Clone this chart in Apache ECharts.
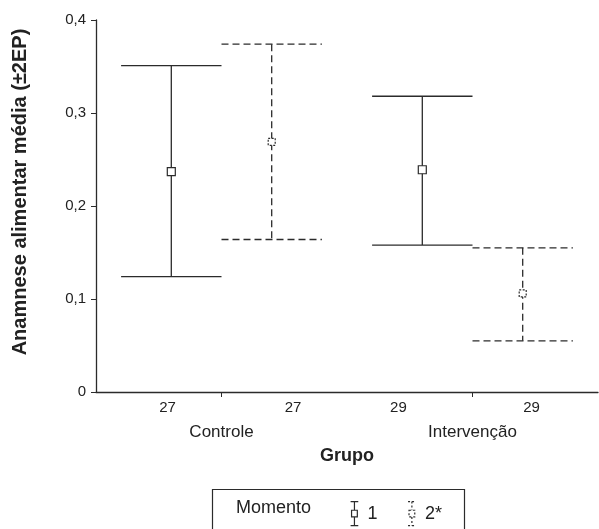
<!DOCTYPE html>
<html>
<head>
<meta charset="utf-8">
<script src="https://cdn.jsdelivr.net/npm/echarts@6/dist/echarts.min.js"></script>
<style>html,body{margin:0;padding:0;background:#fff}#c{width:599px;height:529px}</style>
</head>
<body>
<div id="c"></div>
<script>
// ---- data ----
const groups = ['Controle', 'Intervenção'];
const moments = ['1', '2*'];
const nLabels = ['27', '27', '29', '29'];
// per group: [Controle, Intervenção]
const mean1 = [0.237, 0.239];
const lower1 = [0.124, 0.158];
const upper1 = [0.351, 0.318];
const mean2 = [0.269, 0.106];
const lower2 = [0.164, 0.055];
const upper2 = [0.374, 0.155];
const yTicks = [0, 0.1, 0.2, 0.3, 0.4];

const FONT = '"Liberation Sans", Arial, sans-serif';
const INK = '#2b2b2b';

function groupCenter(i) { return i * 2 + 1; }
function buildData(mean, lower, upper, offset) {
  return groups.map((g, i) => [groupCenter(i) + offset, lower[i], upper[i], mean[i]]);
}

function makeRender(dashed, markSize) {
  return function (params, api) {
    const x = api.value(0), lo = api.value(1), hi = api.value(2), m = api.value(3);
    const pLo = api.coord([x, lo]);
    const pHi = api.coord([x, hi]);
    const pM = api.coord([x, m]);
    const half = api.size([0.4, 0])[0];
    const st = { stroke: INK, lineWidth: 1.3, lineDash: dashed ? [7, 4] : null, fill: null };
    const s = markSize / 2;
    return {
      type: 'group',
      children: [
        { type: 'line', shape: { x1: pHi[0], y1: pHi[1], x2: pLo[0], y2: pLo[1] }, style: st },
        { type: 'line', shape: { x1: pHi[0] - half, y1: pHi[1], x2: pHi[0] + half, y2: pHi[1] }, style: st },
        { type: 'line', shape: { x1: pLo[0] - half, y1: pLo[1], x2: pLo[0] + half, y2: pLo[1] }, style: st },
        { type: 'rect', shape: { x: pM[0] - s, y: pM[1] - s, width: markSize, height: markSize },
          style: { stroke: INK, lineWidth: 1.2, fill: '#fff', lineDash: dashed ? [2, 1.5] : null }, z2: 10 }
      ]
    };
  };
}

const iconPath = 'path://M0,0L8,0M4,0L4,9M1,9L7,9L7,16L1,16ZM4,16L4,25M0,25L8,25';

const chart = echarts.init(document.getElementById('c'));
chart.setOption({
  animation: false,
  backgroundColor: '#fff',
  grid: { left: 96, right: 1, top: 20, bottom: 137 },
  xAxis: [
    {
      type: 'value', min: 0, max: 4,
      axisLine: { show: true, lineStyle: { color: INK, width: 1.3 } },
      axisTick: { show: true, customValues: [1, 3], length: 5, lineStyle: { color: INK } },
      splitLine: { show: false },
      axisLabel: {
        customValues: [0.57, 1.57, 2.41, 3.47],
        formatter: function (v) {
          const idx = [0.57, 1.57, 2.41, 3.47].findIndex(t => Math.abs(t - v) < 1e-6);
          return idx >= 0 ? nLabels[idx] : '';
        },
        margin: 8, color: '#222', fontFamily: FONT, fontSize: 15
      },
      name: 'Grupo', nameLocation: 'middle', nameGap: 55,
      nameTextStyle: { fontFamily: FONT, fontSize: 18, fontWeight: 'bold', color: '#222' }
    },
    {
      type: 'value', min: 0, max: 4, position: 'bottom', offset: 24,
      axisLine: { show: false }, axisTick: { show: false }, splitLine: { show: false },
      axisLabel: {
        customValues: [1, 3],
        formatter: function (v) { return v === 1 ? groups[0] : groups[1]; },
        margin: 8, color: '#222', fontFamily: FONT, fontSize: 17
      }
    }
  ],
  yAxis: {
    type: 'value', min: 0, max: 0.4, interval: 0.1,
    axisLine: { show: true, lineStyle: { color: INK, width: 1.3 } },
    axisTick: { show: true, length: 5, lineStyle: { color: INK } },
    splitLine: { show: false },
    axisLabel: {
      formatter: function (v) { return v === 0 ? '0' : v.toFixed(1).replace('.', ','); },
      margin: 10, color: '#222', fontFamily: FONT, fontSize: 15
    },
    name: 'Anamnese alimentar média (±2EP)', nameLocation: 'middle', nameGap: 66,
    nameTextStyle: { fontFamily: FONT, fontSize: 20, fontWeight: 'bold', color: '#222', padding: [0, 0, 0, 28] }
  },
  legend: {
    left: 345, top: 496,
    itemWidth: 8, itemHeight: 24, itemGap: 30,
    textStyle: { fontFamily: FONT, fontSize: 18, color: '#222', padding: [0, 0, 0, 4] },
    data: [
      { name: moments[0], icon: iconPath, itemStyle: { color: 'transparent', borderColor: INK, borderWidth: 1.2 } },
      { name: moments[1], icon: iconPath, itemStyle: { color: 'transparent', borderColor: INK, borderWidth: 1.2, borderType: [2, 2] } }
    ]
  },
  graphic: [
    { type: 'rect', left: 210, top: 487, shape: { width: 252, height: 60 },
      style: { fill: 'none', stroke: INK, lineWidth: 1.2 } },
    { type: 'text', left: 236, top: 499, style: { text: 'Momento', font: '18px ' + FONT, fill: '#222' } }
  ],
  series: [
    { name: moments[0], type: 'custom', xAxisIndex: 0, renderItem: makeRender(false, 8),
      encode: { x: 0, y: [1, 2, 3] }, data: buildData(mean1, lower1, upper1, -0.4), itemStyle: { color: INK } },
    { name: moments[1], type: 'custom', xAxisIndex: 0, renderItem: makeRender(true, 7),
      encode: { x: 0, y: [1, 2, 3] }, data: buildData(mean2, lower2, upper2, 0.4), itemStyle: { color: INK } }
  ]
});
</script>
</body>
</html>
